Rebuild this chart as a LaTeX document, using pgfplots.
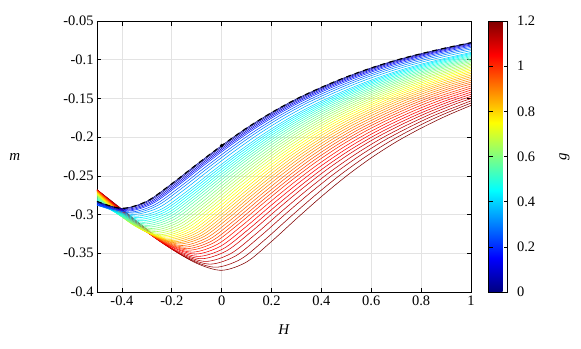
\documentclass[border=0pt]{standalone}
\usepackage{pgfplots}
\pgfplotsset{compat=1.18}
\usepackage{fontspec}
\setmainfont{Liberation Serif}

\definecolor{jet0}{RGB}{0,0,128}
\definecolor{jet1}{RGB}{0,0,170}
\definecolor{jet2}{RGB}{0,0,213}
\definecolor{jet3}{RGB}{0,0,255}
\definecolor{jet4}{RGB}{0,43,255}
\definecolor{jet5}{RGB}{0,85,255}
\definecolor{jet6}{RGB}{0,128,255}
\definecolor{jet7}{RGB}{0,170,255}
\definecolor{jet8}{RGB}{0,213,255}
\definecolor{jet9}{RGB}{0,255,255}
\definecolor{jet10}{RGB}{43,255,213}
\definecolor{jet11}{RGB}{85,255,170}
\definecolor{jet12}{RGB}{128,255,128}
\definecolor{jet13}{RGB}{170,255,85}
\definecolor{jet14}{RGB}{213,255,43}
\definecolor{jet15}{RGB}{255,255,0}
\definecolor{jet16}{RGB}{255,213,0}
\definecolor{jet17}{RGB}{255,170,0}
\definecolor{jet18}{RGB}{255,128,0}
\definecolor{jet19}{RGB}{255,85,0}
\definecolor{jet20}{RGB}{255,43,0}
\definecolor{jet21}{RGB}{255,0,0}
\definecolor{jet22}{RGB}{213,0,0}
\definecolor{jet23}{RGB}{170,0,0}
\definecolor{jet24}{RGB}{128,0,0}
\definecolor{jh8}{RGB}{0,234,255}
\definecolor{jh9}{RGB}{21,255,234}
\definecolor{jh10}{RGB}{64,255,191}
\definecolor{jh11}{RGB}{106,255,149}
\definecolor{jh12}{RGB}{149,255,106}
\definecolor{jh13}{RGB}{191,255,64}
\definecolor{jh14}{RGB}{234,255,21}
\definecolor{jh15}{RGB}{255,234,0}
\definecolor{jh16}{RGB}{255,191,0}
\definecolor{jh17}{RGB}{255,149,0}
\definecolor{jh18}{RGB}{255,106,0}
\definecolor{jh19}{RGB}{255,64,0}
\definecolor{jh20}{RGB}{255,21,0}
\definecolor{jh21}{RGB}{234,0,0}
\definecolor{jh22}{RGB}{191,0,0}
\definecolor{jh23}{RGB}{149,0,0}

\pgfkeys{/pgf/number format/assume math mode=true}
\pgfplotsset{crv/.style={line width=0.55bp, smooth, no markers}}

\begin{document}
\begin{tikzpicture}
\begin{axis}[
  name=ax,
  scale only axis,
  width=374bp, height=271bp,
  xmin=-0.5, xmax=1, ymin=-0.4, ymax=-0.05,
  xtick={-0.4,-0.2,0,0.2,0.4,0.6,0.8,1},
  ytick={-0.4,-0.35,-0.3,-0.25,-0.2,-0.15,-0.1,-0.05},
  scaled y ticks=false, scaled x ticks=false,
  yticklabel style={/pgf/number format/fixed, /pgf/number format/precision=2},
  xticklabel style={/pgf/number format/fixed, /pgf/number format/precision=2},
  tick label style={font=\fontsize{14.5}{16}\selectfont},
  label style={font=\fontsize{15}{17}\selectfont},
  tick align=inside, tick pos=both,
  major tick length=4.5bp,
  every tick/.style={black, line width=0.6bp},
  axis line style={black, line width=0.8bp},
  grid=major,
  major grid style={gray!22, line width=0.6bp},
  xlabel={\textit{H}},
  ylabel={\textit{m}},
  xlabel style={at={(axis description cs:0.5,-0.14)}, anchor=center},
  ylabel style={at={(axis description cs:-0.22,0.5)}, anchor=center, rotate=-90},
  colormap/jet,
  point meta min=0, point meta max=1.2,
  colorbar,
  colorbar style={
    at={(parent axis.north east)}, anchor=north west, xshift=9bp,
    width=19bp,
    ytick={0,0.2,0.4,0.6,0.8,1,1.2},
    ytick pos=both, yticklabel pos=right,
    tick align=inside, major tick length=4bp,
    every tick/.style={black, line width=0.6bp},
    axis line style={black, line width=0.6bp},
    yticklabel style={font=\fontsize{14.5}{16}\selectfont, /pgf/number format/fixed, /pgf/number format/precision=1, xshift=6bp},
    ylabel={\textit{g}},
    ylabel style={font=\fontsize{15}{17}\selectfont, at={(axis description cs:4.0,0.5)}, anchor=center, rotate=0},
  },
]
% g = 1.200
\addplot[crv, jet24] coordinates {(-0.5,-0.268) (-0.4,-0.293) (-0.3,-0.319) (-0.2,-0.344) (-0.1,-0.363) (0,-0.372) (0.1,-0.3612) (0.2,-0.3347) (0.3,-0.3053) (0.4,-0.2768) (0.5,-0.2503) (0.6,-0.2267) (0.7,-0.2061) (0.8,-0.1884) (0.9,-0.1727) (1,-0.159)};
% g = 1.175
\addplot[crv, jh23] coordinates {(-0.5,-0.268) (-0.4225,-0.2877) (-0.3225,-0.3142) (-0.2225,-0.3396) (-0.1225,-0.3589) (-0.0225,-0.368) (0.0775,-0.3574) (0.1775,-0.3313) (0.2775,-0.3024) (0.3775,-0.2744) (0.4775,-0.2483) (0.5775,-0.2252) (0.6775,-0.2049) (0.7775,-0.1875) (0.8775,-0.1721) (1,-0.1560)};
% g = 1.150
\addplot[crv, jet23] coordinates {(-0.5,-0.268) (-0.445,-0.2823) (-0.345,-0.3092) (-0.245,-0.335) (-0.145,-0.3547) (-0.045,-0.364) (0.055,-0.3536) (0.155,-0.3280) (0.255,-0.2995) (0.355,-0.2720) (0.455,-0.2464) (0.555,-0.2237) (0.655,-0.2037) (0.755,-0.1867) (0.855,-0.1715) (1,-0.1531)};
% g = 1.125
\addplot[crv, jh22] coordinates {(-0.5,-0.268) (-0.4625,-0.2779) (-0.3625,-0.3051) (-0.2625,-0.3312) (-0.1625,-0.3511) (-0.0625,-0.3605) (0.0375,-0.3502) (0.1375,-0.3249) (0.2375,-0.2968) (0.3375,-0.2696) (0.4375,-0.2443) (0.5375,-0.2219) (0.6375,-0.2022) (0.7375,-0.1853) (0.8375,-0.1703) (0.9375,-0.1572) (1,-0.1502)};
% g = 1.100
\addplot[crv, jet22] coordinates {(-0.5,-0.268) (-0.38,-0.3008) (-0.28,-0.3273) (-0.18,-0.3475) (-0.08,-0.357) (0.02,-0.3468) (0.12,-0.3218) (0.22,-0.2941) (0.32,-0.2673) (0.42,-0.2423) (0.52,-0.2201) (0.62,-0.2007) (0.72,-0.1840) (0.82,-0.1692) (0.92,-0.1563) (1,-0.1474)};
% g = 1.075
\addplot[crv, jh21] coordinates {(-0.5,-0.26825) (-0.3925,-0.2978) (-0.2925,-0.3243) (-0.1925,-0.3445) (-0.0925,-0.354) (0.0075,-0.3439) (0.1075,-0.3191) (0.2075,-0.2916) (0.3075,-0.2650) (0.4075,-0.2402) (0.5075,-0.2181) (0.6075,-0.1989) (0.7075,-0.1823) (0.8075,-0.1676) (0.9075,-0.1548) (1,-0.1446)};
% g = 1.050
\addplot[crv, jet21] coordinates {(-0.5,-0.2685) (-0.405,-0.2947) (-0.305,-0.3213) (-0.205,-0.3414) (-0.105,-0.351) (-0.005,-0.3410) (0.095,-0.3164) (0.195,-0.2890) (0.295,-0.2626) (0.395,-0.2380) (0.495,-0.2162) (0.595,-0.1970) (0.695,-0.1806) (0.795,-0.1660) (0.895,-0.1533) (1,-0.1419)};
% g = 1.025
\addplot[crv, jh20] coordinates {(-0.5,-0.26875) (-0.4175,-0.2918) (-0.3175,-0.3185) (-0.2175,-0.3389) (-0.1175,-0.3485) (-0.0175,-0.3385) (0.0825,-0.3140) (0.1825,-0.2868) (0.2825,-0.2605) (0.3825,-0.2361) (0.4825,-0.2143) (0.5825,-0.1953) (0.6825,-0.1789) (0.7825,-0.1644) (0.8825,-0.1517) (1,-0.1392)};
% g = 1.000
\addplot[crv, jet20] coordinates {(-0.5,-0.269) (-0.43,-0.2887) (-0.33,-0.3157) (-0.23,-0.3363) (-0.13,-0.346) (-0.03,-0.3361) (0.07,-0.3117) (0.17,-0.2846) (0.27,-0.2584) (0.37,-0.2341) (0.47,-0.2124) (0.57,-0.1935) (0.67,-0.1772) (0.77,-0.1628) (0.87,-0.1501) (1,-0.1366)};
% g = 0.975
\addplot[crv, jh19] coordinates {(-0.5,-0.26925) (-0.44,-0.2862) (-0.34,-0.3135) (-0.24,-0.3342) (-0.14,-0.344) (-0.04,-0.3341) (0.06,-0.3098) (0.16,-0.2827) (0.26,-0.2566) (0.36,-0.2322) (0.46,-0.2106) (0.56,-0.1917) (0.66,-0.1755) (0.76,-0.1610) (0.86,-0.1484) (1,-0.1340)};
% g = 0.950
\addplot[crv, jet19] coordinates {(-0.5,-0.2695) (-0.45,-0.2838) (-0.35,-0.3113) (-0.25,-0.3321) (-0.15,-0.342) (-0.05,-0.3321) (0.05,-0.3078) (0.15,-0.2808) (0.25,-0.2547) (0.35,-0.2304) (0.45,-0.2089) (0.55,-0.1900) (0.65,-0.1738) (0.75,-0.1594) (0.85,-0.1468) (0.95,-0.1360) (1,-0.1315)};
% g = 0.925
\addplot[crv, jh18] coordinates {(-0.5,-0.26975) (-0.46,-0.2813) (-0.36,-0.309) (-0.26,-0.330) (-0.16,-0.340) (-0.06,-0.3301) (0.04,-0.3059) (0.14,-0.2790) (0.24,-0.2530) (0.34,-0.2287) (0.44,-0.2072) (0.54,-0.1883) (0.64,-0.1722) (0.74,-0.1578) (0.84,-0.1453) (0.94,-0.1345) (1,-0.1291)};
% g = 0.900
\addplot[crv, jet18] coordinates {(-0.5,-0.270) (-0.37,-0.3067) (-0.27,-0.3279) (-0.17,-0.338) (-0.07,-0.3282) (0.03,-0.3040) (0.13,-0.2771) (0.23,-0.2512) (0.33,-0.2270) (0.43,-0.2055) (0.53,-0.1867) (0.63,-0.1706) (0.73,-0.1563) (0.83,-0.1437) (0.93,-0.1330) (1,-0.1267)};
% g = 0.875
\addplot[crv, jh17] coordinates {(-0.5,-0.2705) (-0.38,-0.3047) (-0.28,-0.3263) (-0.18,-0.3365) (-0.08,-0.3267) (0.02,-0.3025) (0.12,-0.2756) (0.22,-0.2496) (0.32,-0.2255) (0.42,-0.2040) (0.52,-0.1852) (0.62,-0.1691) (0.72,-0.1547) (0.82,-0.1422) (0.92,-0.1315) (1,-0.1243)};
% g = 0.850
\addplot[crv, jet17] coordinates {(-0.5,-0.271) (-0.39,-0.3028) (-0.29,-0.3246) (-0.19,-0.335) (-0.09,-0.3252) (0.01,-0.3010) (0.11,-0.2741) (0.21,-0.2482) (0.31,-0.2240) (0.41,-0.2025) (0.51,-0.1837) (0.61,-0.1676) (0.71,-0.1533) (0.81,-0.1408) (0.91,-0.1300) (1,-0.1220)};
% g = 0.825
\addplot[crv, jh16] coordinates {(-0.5,-0.2715) (-0.4,-0.3007) (-0.3,-0.323) (-0.2,-0.3335) (-0.1,-0.3237) (0,-0.2995) (0.1,-0.2727) (0.2,-0.2468) (0.3,-0.2226) (0.4,-0.2012) (0.5,-0.1824) (0.6,-0.1663) (0.7,-0.1520) (0.8,-0.1395) (0.9,-0.1288) (1,-0.1198)};
% g = 0.800
\addplot[crv, jet16] coordinates {(-0.5,-0.272) (-0.41,-0.2987) (-0.31,-0.3213) (-0.21,-0.332) (-0.11,-0.3222) (-0.01,-0.2981) (0.09,-0.2713) (0.19,-0.2453) (0.29,-0.2212) (0.39,-0.1998) (0.49,-0.1810) (0.59,-0.1650) (0.69,-0.1507) (0.79,-0.1382) (0.89,-0.1274) (1,-0.1176)};
% g = 0.775
\addplot[crv, jh15] coordinates {(-0.5,-0.2725) (-0.42,-0.2965) (-0.32,-0.3196) (-0.22,-0.3305) (-0.12,-0.3207) (-0.02,-0.2966) (0.08,-0.2698) (0.18,-0.2440) (0.28,-0.2199) (0.38,-0.1985) (0.48,-0.1797) (0.58,-0.1637) (0.68,-0.1494) (0.78,-0.1369) (0.88,-0.1262) (1,-0.1155)};
% g = 0.750
\addplot[crv, jet15] coordinates {(-0.5,-0.273) (-0.43,-0.2943) (-0.33,-0.3178) (-0.23,-0.329) (-0.13,-0.3192) (-0.03,-0.2952) (0.07,-0.2684) (0.17,-0.2426) (0.27,-0.2186) (0.37,-0.1972) (0.47,-0.1785) (0.57,-0.1625) (0.67,-0.1482) (0.77,-0.1358) (0.87,-0.1251) (1,-0.1135)};
% g = 0.725
\addplot[crv, jh14] coordinates {(-0.5,-0.2735) (-0.44,-0.292) (-0.34,-0.3161) (-0.24,-0.3275) (-0.14,-0.3177) (-0.04,-0.2937) (0.06,-0.2671) (0.16,-0.2413) (0.26,-0.2173) (0.36,-0.1959) (0.46,-0.1773) (0.56,-0.1613) (0.66,-0.1471) (0.76,-0.1346) (0.86,-0.1239) (1,-0.1115)};
% g = 0.700
\addplot[crv, jet14] coordinates {(-0.5,-0.274) (-0.45,-0.2896) (-0.35,-0.3143) (-0.25,-0.326) (-0.15,-0.3162) (-0.05,-0.2923) (0.05,-0.2657) (0.15,-0.2399) (0.25,-0.2160) (0.35,-0.1947) (0.45,-0.1760) (0.55,-0.1601) (0.65,-0.1459) (0.75,-0.1335) (0.85,-0.1228) (0.95,-0.1139) (1,-0.1095)};
% g = 0.675
\addplot[crv, jh13] coordinates {(-0.5,-0.2745) (-0.4585,-0.2875) (-0.3585,-0.3123) (-0.2585,-0.324) (-0.1585,-0.3143) (-0.0585,-0.2904) (0.0415,-0.2639) (0.1415,-0.2382) (0.2415,-0.2143) (0.3415,-0.1931) (0.4415,-0.1746) (0.5415,-0.1586) (0.6415,-0.1445) (0.7415,-0.1321) (0.8415,-0.1214) (0.9415,-0.1127) (1,-0.1076)};
% g = 0.650
\addplot[crv, jet13] coordinates {(-0.5,-0.275) (-0.467,-0.2853) (-0.367,-0.3102) (-0.267,-0.322) (-0.167,-0.3123) (-0.067,-0.2885) (0.033,-0.2621) (0.133,-0.2365) (0.233,-0.2128) (0.333,-0.1916) (0.433,-0.1731) (0.533,-0.1573) (0.633,-0.1432) (0.733,-0.1308) (0.833,-0.1203) (0.933,-0.1114) (1,-0.1058)};
% g = 0.625
\addplot[crv, jh12] coordinates {(-0.5,-0.276) (-0.375,-0.3084) (-0.275,-0.320) (-0.175,-0.3103) (-0.075,-0.2866) (0.025,-0.2603) (0.125,-0.2348) (0.225,-0.2111) (0.325,-0.1901) (0.425,-0.1716) (0.525,-0.1558) (0.625,-0.1418) (0.725,-0.1295) (0.825,-0.1189) (0.925,-0.1102) (1,-0.1040)};
% g = 0.600
\addplot[crv, jet12] coordinates {(-0.5,-0.277) (-0.383,-0.3065) (-0.283,-0.318) (-0.183,-0.3084) (-0.083,-0.2848) (0.017,-0.2585) (0.117,-0.2332) (0.217,-0.2095) (0.317,-0.1885) (0.417,-0.1702) (0.517,-0.1544) (0.617,-0.1404) (0.717,-0.1282) (0.817,-0.1177) (0.917,-0.1089) (1,-0.1023)};
% g = 0.575
\addplot[crv, jh11] coordinates {(-0.5,-0.278) (-0.3915,-0.3046) (-0.2915,-0.316) (-0.1915,-0.3064) (-0.0915,-0.2829) (0.0085,-0.2568) (0.1085,-0.2316) (0.2085,-0.2080) (0.3085,-0.1872) (0.4085,-0.1689) (0.5085,-0.1532) (0.6085,-0.1393) (0.7085,-0.1271) (0.8085,-0.1166) (0.9085,-0.1079) (1,-0.1007)};
% g = 0.550
\addplot[crv, jet11] coordinates {(-0.5,-0.279) (-0.4,-0.3028) (-0.3,-0.314) (-0.2,-0.3045) (-0.1,-0.2811) (0,-0.2551) (0.1,-0.2299) (0.2,-0.2066) (0.3,-0.1858) (0.4,-0.1676) (0.5,-0.1520) (0.6,-0.1381) (0.7,-0.1260) (0.8,-0.1156) (0.9,-0.1069) (1,-0.0991)};
% g = 0.525
\addplot[crv, jh10] coordinates {(-0.5,-0.280) (-0.407,-0.3011) (-0.307,-0.312) (-0.207,-0.3025) (-0.107,-0.2792) (-0.007,-0.2533) (0.093,-0.2283) (0.193,-0.2050) (0.293,-0.1843) (0.393,-0.1662) (0.493,-0.1507) (0.593,-0.1369) (0.693,-0.1248) (0.793,-0.1144) (0.893,-0.1058) (1,-0.0975)};
% g = 0.500
\addplot[crv, jet10] coordinates {(-0.5,-0.281) (-0.414,-0.2996) (-0.314,-0.310) (-0.214,-0.3005) (-0.114,-0.2774) (-0.014,-0.2516) (0.086,-0.2267) (0.186,-0.2035) (0.286,-0.1829) (0.386,-0.1648) (0.486,-0.1493) (0.586,-0.1356) (0.686,-0.1236) (0.786,-0.1133) (0.886,-0.1047) (1,-0.0960)};
% g = 0.475
\addplot[crv, jh9] coordinates {(-0.5,-0.282) (-0.4205,-0.2981) (-0.3205,-0.308) (-0.2205,-0.2986) (-0.1205,-0.2755) (-0.0205,-0.2499) (0.0795,-0.2251) (0.1795,-0.2020) (0.2795,-0.1815) (0.3795,-0.1635) (0.4795,-0.1481) (0.5795,-0.1344) (0.6795,-0.1225) (0.7795,-0.1122) (0.8795,-0.1037) (1,-0.0946)};
% g = 0.450
\addplot[crv, jet9] coordinates {(-0.5,-0.283) (-0.427,-0.2967) (-0.327,-0.306) (-0.227,-0.2966) (-0.127,-0.2737) (-0.027,-0.2482) (0.073,-0.2235) (0.173,-0.2005) (0.273,-0.1801) (0.373,-0.1623) (0.473,-0.1470) (0.573,-0.1333) (0.673,-0.1214) (0.773,-0.1112) (0.873,-0.1027) (1,-0.0932)};
% g = 0.425
\addplot[crv, jh8] coordinates {(-0.5,-0.284) (-0.4335,-0.2954) (-0.3335,-0.304) (-0.2335,-0.2947) (-0.1335,-0.2719) (-0.0335,-0.2465) (0.0665,-0.2219) (0.1665,-0.1991) (0.2665,-0.1788) (0.3665,-0.1610) (0.4665,-0.1458) (0.5665,-0.1323) (0.6665,-0.1204) (0.7665,-0.1103) (0.8665,-0.1018) (1,-0.0919)};
% g = 0.400
\addplot[crv, jet8] coordinates {(-0.5,-0.285) (-0.44,-0.2942) (-0.34,-0.302) (-0.24,-0.2927) (-0.14,-0.2700) (-0.04,-0.2448) (0.06,-0.2204) (0.16,-0.1976) (0.26,-0.1774) (0.36,-0.1598) (0.46,-0.1446) (0.56,-0.1312) (0.66,-0.1194) (0.76,-0.1093) (0.86,-0.1009) (1,-0.0906)};
% g = 0.35
\addplot[crv, jet7] coordinates {(-0.5,-0.287) (-0.45,-0.2932) (-0.35,-0.2998) (-0.25,-0.2906) (-0.15,-0.2679) (-0.05,-0.2427) (0.05,-0.2184) (0.15,-0.1957) (0.25,-0.1756) (0.35,-0.1580) (0.45,-0.1429) (0.55,-0.1294) (0.65,-0.1177) (0.75,-0.1076) (0.85,-0.0992) (0.95,-0.0917) (1,-0.0883)};
% g = 0.30
\addplot[crv, jet6] coordinates {(-0.5,-0.288) (-0.36,-0.298) (-0.26,-0.2888) (-0.16,-0.2661) (-0.06,-0.2410) (0.04,-0.2167) (0.14,-0.1941) (0.24,-0.1739) (0.34,-0.1563) (0.44,-0.1413) (0.54,-0.1278) (0.64,-0.1161) (0.74,-0.1061) (0.84,-0.0977) (0.94,-0.0901) (1,-0.0861)};
% g = 0.25
\addplot[crv, jet5] coordinates {(-0.5,-0.288) (-0.37,-0.2968) (-0.27,-0.2876) (-0.17,-0.2649) (-0.07,-0.2398) (0.03,-0.2155) (0.13,-0.1929) (0.23,-0.1727) (0.33,-0.1551) (0.43,-0.1400) (0.53,-0.1266) (0.63,-0.1149) (0.73,-0.1048) (0.83,-0.0964) (0.93,-0.0889) (1,-0.0842)};
% g = 0.20
\addplot[crv, jet4] coordinates {(-0.5,-0.287) (-0.38,-0.2955) (-0.28,-0.2863) (-0.18,-0.2637) (-0.08,-0.2386) (0.02,-0.2143) (0.12,-0.1917) (0.22,-0.1716) (0.32,-0.1540) (0.42,-0.1389) (0.52,-0.1255) (0.62,-0.1138) (0.72,-0.1038) (0.82,-0.0954) (0.92,-0.0878) (1,-0.0825)};
% g = 0.15
\addplot[crv, jet3] coordinates {(-0.5,-0.286) (-0.385,-0.2945) (-0.285,-0.2853) (-0.185,-0.2627) (-0.085,-0.2375) (0.015,-0.2132) (0.115,-0.1906) (0.215,-0.1705) (0.315,-0.1529) (0.415,-0.1378) (0.515,-0.1244) (0.615,-0.1127) (0.715,-0.1026) (0.815,-0.0942) (0.915,-0.0867) (1,-0.0810)};
% g = 0.10
\addplot[crv, jet2] coordinates {(-0.5,-0.285) (-0.39,-0.2935) (-0.29,-0.2843) (-0.19,-0.2617) (-0.09,-0.2366) (0.01,-0.2123) (0.11,-0.1897) (0.21,-0.1696) (0.31,-0.1520) (0.41,-0.1369) (0.51,-0.1235) (0.61,-0.1118) (0.71,-0.1017) (0.81,-0.0934) (0.91,-0.0858) (1,-0.0798)};
% g = 0.05
\addplot[crv, jet1] coordinates {(-0.5,-0.284) (-0.395,-0.2925) (-0.295,-0.2833) (-0.195,-0.2607) (-0.095,-0.2356) (0.005,-0.2114) (0.105,-0.1888) (0.205,-0.1688) (0.305,-0.1512) (0.405,-0.1362) (0.505,-0.1228) (0.605,-0.1111) (0.705,-0.1010) (0.805,-0.0927) (0.905,-0.0851) (1,-0.0788)};
% g = 0
\addplot[crv, jet0] coordinates {(-0.5,-0.283) (-0.4,-0.292) (-0.3,-0.2828) (-0.2,-0.2602) (-0.1,-0.2352) (0,-0.2109) (0.1,-0.1883) (0.2,-0.1683) (0.3,-0.1507) (0.4,-0.1357) (0.5,-0.1223) (0.6,-0.1106) (0.7,-0.1006) (0.8,-0.0922) (0.9,-0.0847) (1,-0.078)};
% reference curve (dashed)
\addplot[black, line width=1.1bp, dash pattern=on 5bp off 4bp, smooth, no markers] coordinates {(-0.5,-0.283) (-0.4,-0.292) (-0.3,-0.2828) (-0.2,-0.2602) (-0.1,-0.2352) (0,-0.2109) (0.1,-0.1883) (0.2,-0.1683) (0.3,-0.1507) (0.4,-0.1357) (0.5,-0.1223) (0.6,-0.1106) (0.7,-0.1006) (0.8,-0.0922) (0.9,-0.0847) (1,-0.078)};
\addplot[only marks, mark=*, black, mark size=1.6bp] coordinates {(0,-0.2109)};
\end{axis}
\path (ax.south west) ++(-97bp,-57bp) rectangle ++(581bp,349bp);
\end{tikzpicture}
\end{document}
